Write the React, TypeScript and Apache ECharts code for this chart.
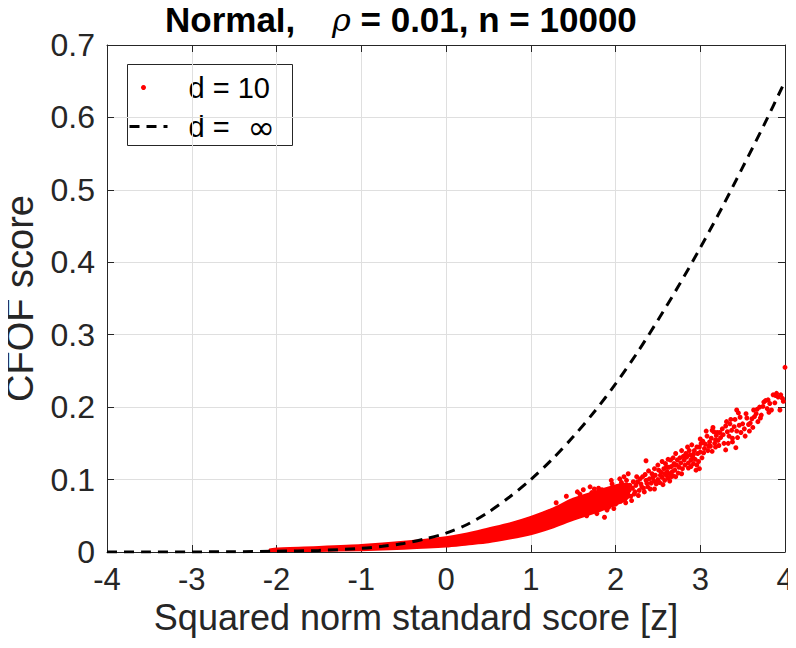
import React, { useEffect, useRef } from "react";
import * as echarts from "echarts";

// axis ticks
const xTicks = [-4, -3, -2, -1, 0, 1, 2, 3, 4];
const yTicks = [0, 0.1, 0.2, 0.3, 0.4, 0.5, 0.6, 0.7];

// d = infinity curve
const zInf = [-4, -3.5, -3, -2.5, -2, -1.5, -1, -0.75, -0.5, -0.25, 0, 0.25, 0.5, 0.75, 1, 1.25, 1.5, 1.75, 2, 2.25, 2.5, 2.75, 3, 3.25, 3.5, 3.75, 4];
const cfofInf = [0, 0, 0.0001, 0.0004, 0.001, 0.0022, 0.005, 0.0078, 0.0118, 0.018, 0.026, 0.038, 0.055, 0.076, 0.1, 0.1277, 0.159, 0.1936, 0.232, 0.274, 0.32, 0.3685, 0.42, 0.474, 0.531, 0.589, 0.65];

// d = 10: the dense part of the cloud, read as lower / upper envelopes
const zBand = [-2.08, -2, -1.5, -1, -0.5, 0, 0.25, 0.5, 0.75, 1, 1.25, 1.5, 1.75, 2, 2.15];
const bandLow = [0.0015, 0.001, 0.0015, 0.0025, 0.0045, 0.0075, 0.0105, 0.0135, 0.0185, 0.0245, 0.0335, 0.0445, 0.054, 0.065, 0.075];
const bandHigh = [0.0035, 0.005, 0.007, 0.0095, 0.014, 0.0205, 0.0255, 0.0325, 0.0395, 0.0485, 0.0595, 0.0735, 0.083, 0.092, 0.094];

// d = 10: individual (sparse) points
const zPts = [
  1.30, 1.42, 1.55, 1.62, 1.70, 1.84, 1.87, 1.78, 1.95, 2.05, 2.10, 2.15, 1.98, 2.12,
  2.04, 2.08, 2.12, 2.16, 2.20, 2.24, 2.26, 2.30, 2.32, 2.36, 2.40, 2.43, 2.47, 2.51, 2.53, 2.36,
  2.57, 2.59, 2.61, 2.63, 2.65, 2.67, 2.69, 2.71, 2.71, 2.73, 2.75,
  2.81, 2.83, 2.84, 2.87, 2.89, 2.89, 2.91, 2.93, 2.95, 2.97, 2.99, 2.99,
  3.01, 3.03, 3.05, 3.08, 3.11, 3.13, 3.16, 3.17, 3.19, 3.21,
  3.30, 3.30, 3.32, 3.35, 3.38, 3.38, 3.40, 3.42, 3.43, 3.43, 3.45, 3.46, 3.50, 3.53, 3.57,
  3.61, 3.63, 3.64, 3.66, 3.70, 3.75, 3.77, 3.79, 3.86, 3.89, 3.92, 3.94, 4.0,
  2.38, 2.42, 2.45, 2.48, 2.50, 2.52, 2.55, 2.58, 2.60, 2.62, 2.64, 2.66, 2.68, 2.70, 2.72, 2.74,
  2.77, 2.79, 2.80, 2.82, 2.86, 2.88, 2.92, 2.94, 2.96, 2.98, 3.00, 3.02, 3.06, 3.09, 3.12, 3.14,
  3.18, 3.20, 3.24, 3.26, 3.28, 3.34, 3.36, 3.48, 3.55, 3.58, 3.68, 3.72, 3.82, 3.84, 3.97,
  2.28, 2.33, 2.22, 2.18, 2.46, 2.56, 3.14,
  1.92, 1.96, 2.00, 2.02, 2.06, 2.07, 2.09, 2.11, 2.13, 2.14, 2.17, 2.19, 2.21, 2.23, 2.25, 2.27,
  2.29, 2.31, 2.34, 2.35, 2.37, 2.39, 2.41, 2.44, 2.46, 2.49, 2.50, 2.54, 2.55, 2.58, 2.60, 2.62,
  2.64, 2.66, 2.68, 2.70, 2.76, 2.78, 2.78, 2.85, 2.86, 2.90, 2.92, 2.96, 3.00, 3.04, 3.07, 3.10,
  3.15, 3.18, 3.22, 3.23, 3.27, 3.31, 3.33, 3.37, 3.41, 3.44, 3.47, 3.52, 3.54, 3.59, 3.62, 3.67,
  3.71, 3.74, 3.80, 3.81, 3.88, 3.90, 3.95, 3.98, 1.72, 1.80, 1.66, 1.90, 1.58, 1.75
];
const cfofPts = [
  0.068, 0.077, 0.083, 0.086, 0.090, 0.086, 0.048, 0.053, 0.099, 0.101, 0.104, 0.108, 0.060, 0.068,
  0.074, 0.078, 0.083, 0.085, 0.088, 0.092, 0.097, 0.094, 0.104, 0.099, 0.101, 0.108, 0.106, 0.113, 0.106, 0.126,
  0.115, 0.122, 0.111, 0.117, 0.127, 0.111, 0.122, 0.136, 0.104, 0.127, 0.117,
  0.127, 0.136, 0.131, 0.140, 0.127, 0.118, 0.131, 0.140, 0.113, 0.136, 0.145, 0.115,
  0.150, 0.153, 0.143, 0.160, 0.152, 0.157, 0.166, 0.150, 0.161, 0.154,
  0.174, 0.141, 0.166, 0.177, 0.157, 0.152, 0.173, 0.144, 0.167, 0.196, 0.192, 0.175, 0.177, 0.160, 0.176,
  0.184, 0.196, 0.187, 0.191, 0.200, 0.207, 0.209, 0.198, 0.217, 0.216, 0.214, 0.196, 0.255,
  0.090, 0.095, 0.098, 0.094, 0.100, 0.096, 0.103, 0.099, 0.106, 0.102, 0.108, 0.118, 0.105, 0.113, 0.120, 0.109,
  0.123, 0.115, 0.132, 0.120, 0.123, 0.134, 0.122, 0.128, 0.145, 0.125, 0.138, 0.130, 0.149, 0.140, 0.146, 0.139,
  0.145, 0.165, 0.158, 0.170, 0.150, 0.160, 0.183, 0.165, 0.185, 0.167, 0.180, 0.189, 0.205, 0.196, 0.212,
  0.085, 0.088, 0.080, 0.077, 0.087, 0.093, 0.168,
  0.062, 0.094, 0.066, 0.090, 0.070, 0.096, 0.085, 0.073, 0.099, 0.079, 0.092, 0.071, 0.097, 0.083, 0.104, 0.078,
  0.101, 0.090, 0.083, 0.107, 0.095, 0.112, 0.087, 0.103, 0.115, 0.097, 0.120, 0.110, 0.125, 0.108, 0.117, 0.128,
  0.098, 0.104, 0.130, 0.120, 0.130, 0.108, 0.140, 0.145, 0.116, 0.148, 0.135, 0.120, 0.156, 0.137, 0.167, 0.146,
  0.172, 0.155, 0.147, 0.165, 0.162, 0.180, 0.150, 0.168, 0.183, 0.158, 0.186, 0.170, 0.191, 0.178, 0.172, 0.197,
  0.185, 0.201, 0.210, 0.193, 0.206, 0.219, 0.217, 0.208, 0.082, 0.088, 0.050, 0.058, 0.080, 0.087
];

const FONT = "'Liberation Sans', Arial, Helvetica, sans-serif";
const AXIS_COLOR = "#262626";
const GRID_COLOR = "#dfdfdf";

export default function App() {
  const ref = useRef<HTMLDivElement>(null);

  useEffect(() => {
    if (!ref.current) return;
    const chart = echarts.init(ref.current, null, { renderer: "svg" });

    const infData = zInf.map((z, i) => [z, cfofInf[i]]);
    const ptsData = zPts.map((z, i) => [z, cfofPts[i]]);

    const axisCommon = {
      type: "value" as const,
      axisLine: { show: true, onZero: false, lineStyle: { color: AXIS_COLOR, width: 1 } },
      axisTick: { show: true, inside: true, length: 7, lineStyle: { color: AXIS_COLOR, width: 1 } },
    };

    chart.setOption({
      animation: false,
      backgroundColor: "#ffffff",
      title: {
        left: 160,
        top: -3,
        text: "{b|Normal,}{s|    }{r|ρ}{b| = 0.01, n = 10000}",
        textStyle: {
          fontWeight: "normal",
          rich: {
            b: { fontFamily: FONT, fontWeight: "bold", fontSize: 35, color: "#000" },
            s: { fontFamily: FONT, fontWeight: "bold", fontSize: 33, color: "#000" },
            r: { fontFamily: "'DejaVu Serif', 'Liberation Serif', serif", fontStyle: "italic", fontWeight: "normal", fontSize: 32, color: "#000" },
          },
        },
      },
      grid: { left: 107, right: 11, top: 45, bottom: 96, containLabel: false, outerBoundsMode: "none" },
      xAxis: [
        {
          ...axisCommon,
          min: -4,
          max: 4,
          interval: 1,
          position: "bottom",
          name: "Squared norm standard score [z]",
          nameLocation: "middle",
          nameGap: 40,
          nameTextStyle: { fontFamily: FONT, fontSize: 36, color: AXIS_COLOR, padding: [0, 60, 0, 0] },
          axisLabel: {
            margin: 12,
            fontFamily: FONT,
            fontSize: 31,
            color: AXIS_COLOR,
            formatter: (v: number) => (xTicks.includes(v) ? String(v) : ""),
          },
          splitLine: { show: true, lineStyle: { color: GRID_COLOR, width: 1 } },
        },
        {
          ...axisCommon,
          min: -4,
          max: 4,
          interval: 1,
          position: "top",
          axisLabel: { show: false },
          splitLine: { show: false },
        },
      ],
      yAxis: [
        {
          ...axisCommon,
          min: 0,
          max: 0.7,
          interval: 0.1,
          position: "left",
          name: "CFOF score",
          nameLocation: "middle",
          nameGap: 68,
          nameTextStyle: { fontFamily: FONT, fontSize: 38, color: AXIS_COLOR },
          axisLabel: {
            margin: 12,
            fontFamily: FONT,
            fontSize: 32,
            color: AXIS_COLOR,
            formatter: (v: number) => {
              const t = yTicks.find((y) => Math.abs(y - v) < 1e-9);
              return t === undefined ? "" : String(t);
            },
          },
          splitLine: { show: true, lineStyle: { color: GRID_COLOR, width: 1 } },
        },
        {
          ...axisCommon,
          min: 0,
          max: 0.7,
          interval: 0.1,
          position: "right",
          axisLabel: { show: false },
          splitLine: { show: false },
        },
      ],
      series: [
        {
          name: "d = 10 band",
          type: "custom",
          xAxisIndex: 0,
          yAxisIndex: 0,
          clip: true,
          z: 2,
          data: [[zBand[0], bandLow[0]]],
          renderItem: (params: any, api: any) => {
            if (params.dataIndex !== 0) return null;
            const pts: number[][] = [];
            for (let i = 0; i < zBand.length; i++) pts.push(api.coord([zBand[i], bandLow[i]]));
            for (let i = zBand.length - 1; i >= 0; i--) pts.push(api.coord([zBand[i], bandHigh[i]]));
            return {
              type: "polygon",
              shape: { points: pts, smooth: 0.2 },
              style: { fill: "#ff0000", stroke: "#ff0000", lineWidth: 2, lineJoin: "round" },
            };
          },
        },
        {
          name: "d = 10",
          type: "scatter",
          xAxisIndex: 0,
          yAxisIndex: 0,
          symbol: "circle",
          symbolSize: 5,
          itemStyle: { color: "#ff0000", opacity: 1 },
          z: 3,
          data: ptsData,
        },
        {
          name: "d = ∞",
          type: "line",
          xAxisIndex: 0,
          yAxisIndex: 0,
          smooth: 0.3,
          showSymbol: false,
          symbol: "none",
          lineStyle: { color: "#000000", width: 3, type: [10, 7] },
          z: 4,
          data: infData,
        },
      ],
      graphic: [
        {
          type: "group",
          left: 127,
          top: 64,
          z: 100,
          children: [
            {
              type: "rect",
              shape: { x: 0, y: 0, width: 165, height: 81 },
              style: { fill: "#ffffff", stroke: AXIS_COLOR, lineWidth: 1 },
            },
            {
              type: "circle",
              shape: { cx: 16, cy: 23, r: 2.5 },
              style: { fill: "#ff0000" },
            },
            {
              type: "text",
              x: 61,
              y: 23,
              style: { text: "d = 10", font: `29px ${FONT}`, fill: "#000", verticalAlign: "middle" },
            },
            {
              type: "line",
              shape: { x1: 2, y1: 62, x2: 40, y2: 62 },
              style: { stroke: "#000", lineWidth: 3, lineDash: [10, 7] },
            },
            {
              type: "text",
              x: 61,
              y: 62,
              style: { text: "d =", font: `29px ${FONT}`, fill: "#000", verticalAlign: "middle" },
            },
            {
              type: "text",
              x: 120,
              y: 63,
              style: { text: "∞", font: `33px 'DejaVu Sans', sans-serif`, fill: "#000", verticalAlign: "middle" },
            },
          ],
        },
      ],
    });

    return () => chart.dispose();
  }, []);

  return <div ref={ref} style={{ width: 796, height: 648, margin: -8 }} />;
}
